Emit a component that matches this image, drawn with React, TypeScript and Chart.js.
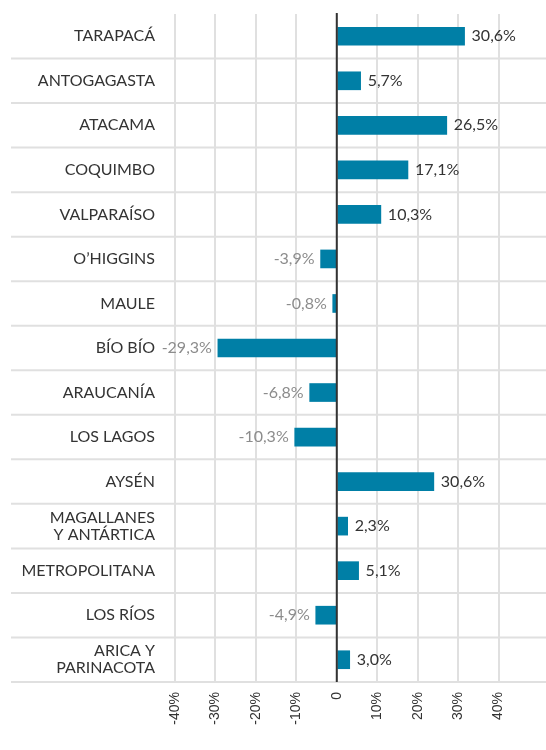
import React, { useEffect, useRef } from 'react';
import { Chart, registerables } from 'chart.js';

Chart.register(...registerables);

const regions: (string | string[])[] = [
  'TARAPACÁ',
  'ANTOGAGASTA',
  'ATACAMA',
  'COQUIMBO',
  'VALPARAÍSO',
  'O’HIGGINS',
  'MAULE',
  'BÍO BÍO',
  'ARAUCANÍA',
  'LOS LAGOS',
  'AYSÉN',
  ['MAGALLANES', 'Y ANTÁRTICA'],
  'METROPOLITANA',
  'LOS RÍOS',
  ['ARICA Y', 'PARINACOTA'],
];

// bar lengths as drawn in the picture
const barValues = [31.6, 5.9, 27.2, 17.6, 10.9, -4.0, -1.0, -29.4, -6.7, -10.4, 24.0, 2.7, 5.4, -5.2, 3.2];

// printed value labels
const labelValues = [30.6, 5.7, 26.5, 17.1, 10.3, -3.9, -0.8, -29.3, -6.8, -10.3, 30.6, 2.3, 5.1, -4.9, 3.0];

const xTicks = [-40, -30, -20, -10, 0, 10, 20, 30, 40];

const fmt = (v: number) => v.toFixed(1).replace('.', ',') + '%';

const decorPlugin = {
  id: 'decor',
  beforeDatasetsDraw(chart: any) {
    const { ctx, chartArea, scales } = chart;
    const y = scales.y;
    ctx.save();
    ctx.strokeStyle = '#e0e0e0';
    ctx.lineWidth = 2;
    const n = regions.length;
    for (let i = 0; i < n - 1; i++) {
      const yy = (y.getPixelForValue(i) + y.getPixelForValue(i + 1)) / 2;
      ctx.beginPath();
      ctx.moveTo(11, yy);
      ctx.lineTo(chart.width, yy);
      ctx.stroke();
    }
    ctx.beginPath();
    ctx.moveTo(11, chartArea.bottom);
    ctx.lineTo(chart.width, chartArea.bottom);
    ctx.stroke();
    ctx.restore();
  },
  afterDatasetsDraw(chart: any) {
    const { ctx, chartArea, scales } = chart;
    const x0 = scales.x.getPixelForValue(0);
    ctx.save();
    ctx.strokeStyle = '#333333';
    ctx.lineWidth = 2;
    ctx.beginPath();
    ctx.moveTo(x0, chartArea.top - 1);
    ctx.lineTo(x0, chartArea.bottom);
    ctx.stroke();

    const meta = chart.getDatasetMeta(0);
    ctx.font = '16px Lato, "Open Sans", sans-serif';
    ctx.textBaseline = 'middle';
    meta.data.forEach((bar: any, i: number) => {
      const pos = barValues[i] >= 0;
      ctx.fillStyle = pos ? '#333333' : '#8c8c8c';
      ctx.textAlign = pos ? 'left' : 'right';
      ctx.fillText(fmt(labelValues[i]), bar.x + (pos ? 7 : -6), bar.y);
    });
    ctx.restore();
  },
};

function BarChart() {
  const ref = useRef<HTMLCanvasElement | null>(null);
  useEffect(() => {
    document.body.style.margin = '0';
    if (!ref.current) return;
    const chart = new Chart(ref.current, {
      type: 'bar',
      data: {
        labels: regions as any,
        datasets: [
          {
            data: barValues,
            backgroundColor: '#007fa6',
            borderWidth: 0,
            barThickness: 18,
          },
        ],
      },
      options: {
        indexAxis: 'y',
        animation: false,
        responsive: true,
        maintainAspectRatio: false,
        layout: { padding: { top: 14, right: 7, left: 0, bottom: 0 } },
        plugins: {
          legend: { display: false },
          tooltip: { enabled: false },
        },
        scales: {
          x: {
            type: 'linear',
            min: -40,
            max: 50,
            afterBuildTicks: (scale: any) => {
              scale.ticks = xTicks.map((v) => ({ value: v }));
            },
            afterFit: (scale: any) => {
              scale.height = 68;
              scale.paddingLeft = 0;
              scale.paddingRight = 0;
            },
            grid: { color: '#e0e0e0', lineWidth: 2, drawTicks: false },
            border: { display: false },
            ticks: {
              autoSkip: false,
              minRotation: 90,
              maxRotation: 90,
              padding: 10,
              color: '#333333',
              font: { family: '"Liberation Sans", Arial, sans-serif', size: 14 },
              callback: (v: any) => (Number(v) === 0 ? '0' : v + '%'),
            },
          },
          y: {
            type: 'category',
            afterFit: (scale: any) => {
              scale.width = 175;
              scale.paddingTop = 0;
              scale.paddingBottom = 0;
            },
            grid: { display: false, drawTicks: false },
            border: { display: false },
            ticks: {
              autoSkip: false,
              padding: 20,
              color: '#333333',
              font: { family: 'Lato, "Open Sans", sans-serif', size: 16, lineHeight: 1.05 },
            },
          },
        },
      },
      plugins: [decorPlugin],
    });
    return () => chart.destroy();
  }, []);
  return (
    <div style={{ position: 'relative', width: '546px', height: '750px' }}>
      <canvas ref={ref} />
    </div>
  );
}

export default function App() {
  return <BarChart />;
}
